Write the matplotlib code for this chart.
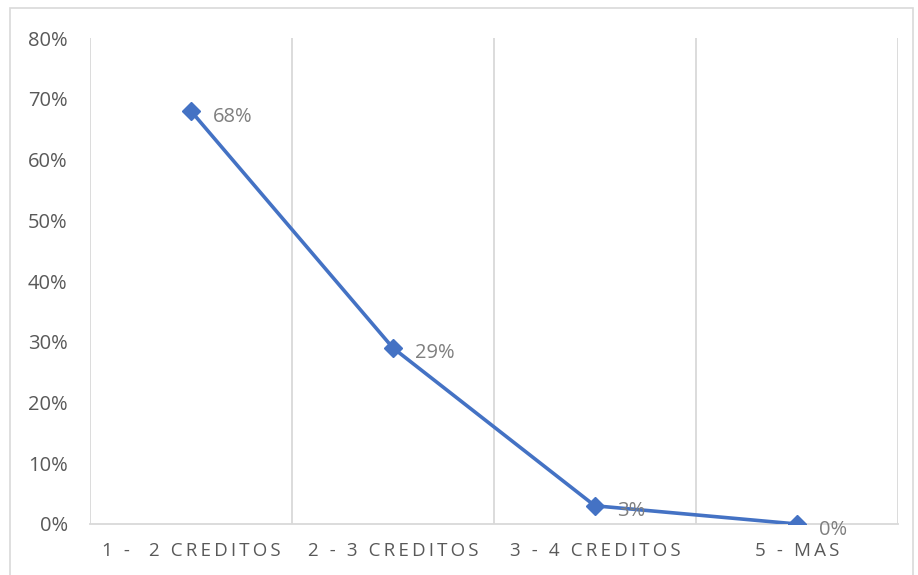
import matplotlib.pyplot as plt
from matplotlib.patches import Rectangle
from matplotlib.ticker import PercentFormatter

plt.rcParams['font.family'] = ['Open Sans', 'DejaVu Sans']

categories = ['1 -  2 CREDITOS', '2 - 3 CREDITOS', '3 - 4 CREDITOS', '5 - MAS']
values = [0.68, 0.29, 0.03, 0.00]
yticks = [0, 0.1, 0.2, 0.3, 0.4, 0.5, 0.6, 0.7, 0.8]

text_gray = '#595959'
label_gray = '#7f7f7f'
grid_gray = '#d9d9d9'
blue = '#4472C4'


def spaced(s):
    # widen the letters a bit, like the category axis in a spreadsheet chart
    return '\u2009'.join(s)


fig = plt.figure(figsize=(9.18, 5.75), dpi=100)
ax = fig.add_axes([0.098, 0.0887, 0.88, 0.845])

x = list(range(len(categories)))
ax.plot(x, values, color=blue, lw=2.6, marker='D', markersize=9.5,
        markerfacecolor=blue, markeredgecolor=blue, zorder=3)

for xi, v in zip(x, values):
    ax.annotate(f'{v:.0%}', (xi, v), xytext=(16, -4), textcoords='offset points',
                ha='left', va='center', fontsize=14.5, color=label_gray, zorder=4)

ax.set_xlim(-0.5, len(categories) - 0.5)
ax.set_ylim(0, 0.8)
ax.set_yticks(yticks)
ax.yaxis.set_major_formatter(PercentFormatter(1.0, decimals=0))
ax.set_xticks(x)
ax.set_xticklabels([spaced(c) for c in categories])

# vertical separators between categories
for b in [i - 0.5 for i in range(len(categories) + 1)]:
    ax.axvline(b, color=grid_gray, lw=1.3, zorder=1)

for side in ['top', 'right', 'left']:
    ax.spines[side].set_visible(False)
ax.spines['bottom'].set_color(grid_gray)
ax.spines['bottom'].set_linewidth(1.3)

ax.tick_params(axis='both', length=0, colors=text_gray, labelsize=14.5)
ax.tick_params(axis='y', pad=16)
ax.tick_params(axis='x', pad=13, labelsize=13.5)

# outer chart frame
fig.patches.append(Rectangle((10 / 918, -0.01), 903 / 918, 1 - 8 / 575 + 0.01,
                             transform=fig.transFigure, fill=False,
                             edgecolor=grid_gray, lw=1.2))

fig.savefig('out.png', dpi=100)
